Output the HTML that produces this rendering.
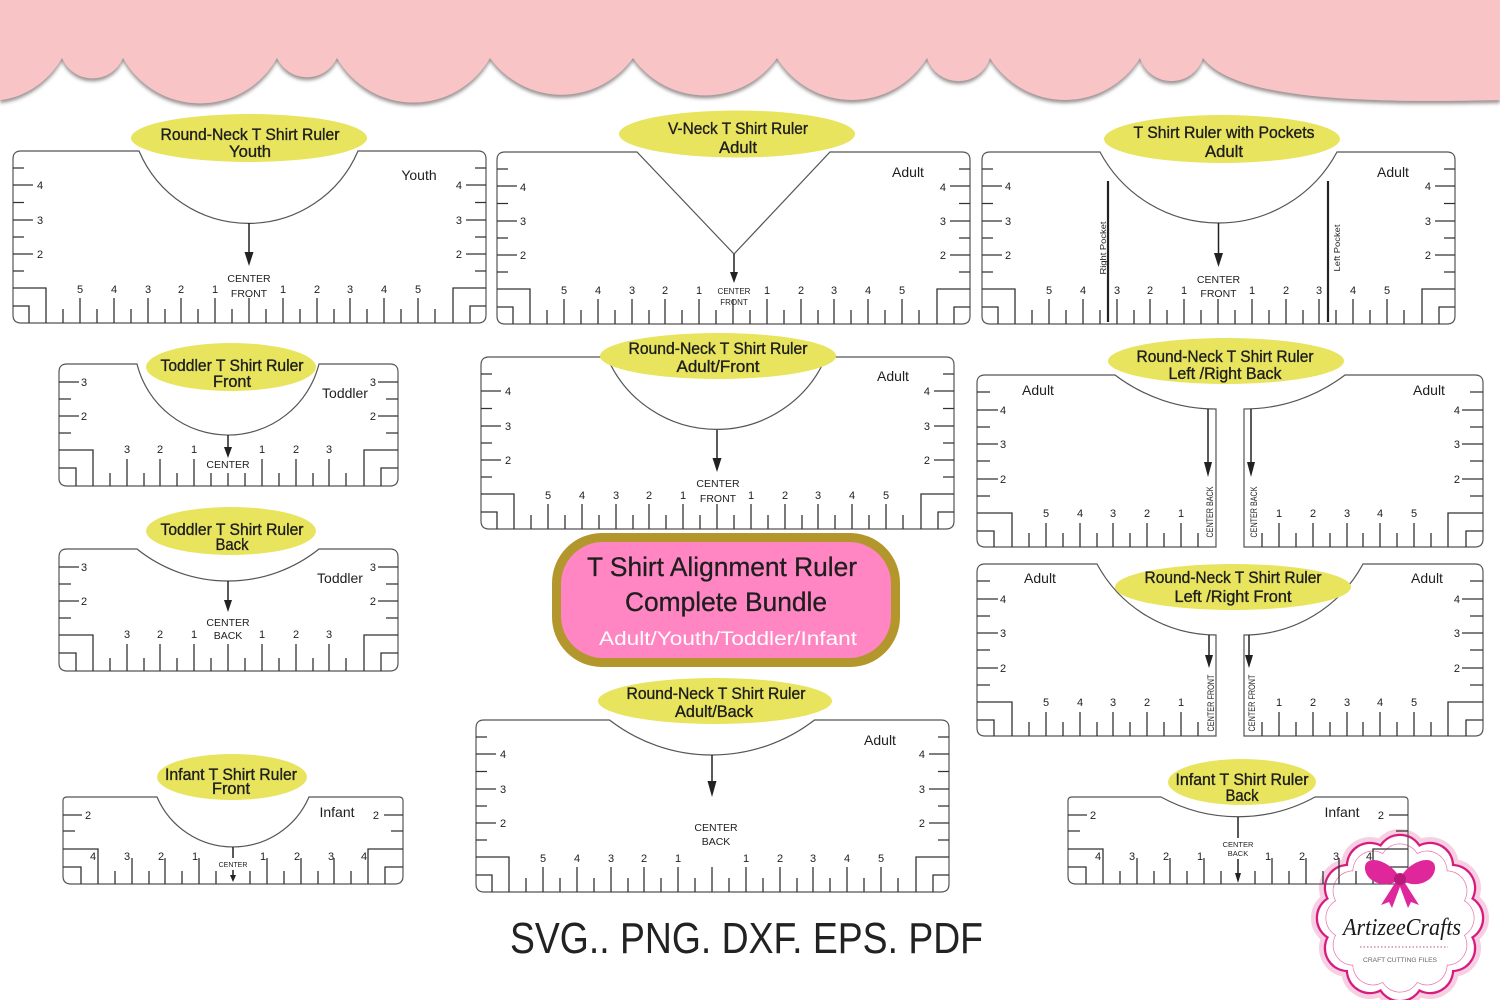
<!DOCTYPE html>
<html><head><meta charset="utf-8"><style>
html,body{margin:0;padding:0;background:#fff;}
svg{display:block;}
</style></head><body>
<svg width="1500" height="1000" viewBox="0 0 1500 1000" xmlns="http://www.w3.org/2000/svg">
<style>
text{font-family:"Liberation Sans",Arial,sans-serif;fill:#1e1e1e}
.o{fill:#fff;stroke:#555;stroke-width:1.2}
.n{font-size:11px;text-anchor:middle}
.ns{font-size:11px}
.ne{font-size:11px;text-anchor:end}
.lb{font-size:16.5px;text-anchor:middle;stroke:#1e1e1e;stroke-width:0.35}
.sz{font-size:14px;text-anchor:middle}
.el{fill:#e8e45e}
.ar{stroke:#222;stroke-width:1.5;fill:none}
.ah{fill:#222}
</style>
<defs>
<filter id="sh" x="-5%" y="-10%" width="110%" height="140%">
<feDropShadow dx="0" dy="3" stdDeviation="1.8" flood-color="#8a7f7f" flood-opacity="0.85"/>
</filter>
<path id="tA" fill="none" stroke="#333" stroke-width="1.3" d="M0,17h11M0,34h20M0,51.5h11M0,69h20M0,86h11M0,103h20M0,120h11M462,17h11M453,34h20M462,51.5h11M453,69h20M462,86h11M453,103h20M462,120h11M0,137H33V172M0,155H16V172M473,137H440V172M473,155H457V172M67,147V172M101,147V172M135,147V172M168,147V172M202,147V172M236,147V172M270,147V172M304,147V172M337,147V172M371,147V172M405,147V172M50,158V172M84,158V172M118,158V172M152,158V172M185,158V172M219,158V172M253,158V172M287,158V172M321,158V172M354,158V172M388,158V172M422,158V172"/>
<path id="tT" fill="none" stroke="#333" stroke-width="1.3" d="M0,18h20M0,35h12M0,52h20M0,69h12M319,18h20M327,35h12M319,52h20M327,69h12M0,86H34V122M0,104H17V122M339,86H305V122M339,104H322V122M68,95V122M101,95V122M135,95V122M203,95V122M237,95V122M270,95V122M51,109V122M85,109V122M118,109V122M152,109V122M186,109V122M220,109V122M254,109V122M287,109V122M169,109V122"/>
<path id="tI" fill="none" stroke="#333" stroke-width="1.3" d="M0,18h19M0,34h12M321,18h19M328,34h12M0,52H35V87M0,70H18V87M340,52H305V87M340,70H322V87M69,61V87M102,61V87M136,61V87M204,61V87M238,61V87M271,61V87M52,74V87M86,74V87M119,74V87M153,74V87M187,74V87M221,74V87M255,74V87M288,74V87"/>
<path id="tS" fill="none" stroke="#333" stroke-width="1.3" d="M0,17h13M0,35h21M0,52h13M0,69h21M0,86h13M0,104h21M0,121h13M0,138H35V172M0,156H17V172M69,148V172M103,148V172M136,148V172M170,148V172M204,148V172M52,158V172M86,158V172M120,158V172M153,158V172M187,158V172M221,158V172"/>
<g id="bumps">
<circle cx="1460" cy="918" r="22"/>
<circle cx="1460" cy="918" r="22" transform="rotate(30 1400 918)"/>
<circle cx="1460" cy="918" r="22" transform="rotate(60 1400 918)"/>
<circle cx="1460" cy="918" r="22" transform="rotate(90 1400 918)"/>
<circle cx="1460" cy="918" r="22" transform="rotate(120 1400 918)"/>
<circle cx="1460" cy="918" r="22" transform="rotate(150 1400 918)"/>
<circle cx="1460" cy="918" r="22" transform="rotate(180 1400 918)"/>
<circle cx="1460" cy="918" r="22" transform="rotate(210 1400 918)"/>
<circle cx="1460" cy="918" r="22" transform="rotate(240 1400 918)"/>
<circle cx="1460" cy="918" r="22" transform="rotate(270 1400 918)"/>
<circle cx="1460" cy="918" r="22" transform="rotate(300 1400 918)"/>
<circle cx="1460" cy="918" r="22" transform="rotate(330 1400 918)"/>
<circle cx="1400" cy="918" r="62"/>
</g>
</defs>

<rect width="1500" height="1000" fill="#fff"/>

<!-- Top scalloped banner -->
<path filter="url(#sh)" fill="#f8c4c5" d="M0,0H1500V100C1340,104 1232,96 1203,58A33,33 0 0 1 1140,58A88,88 0 0 1 990,58A33,33 0 0 1 927,58A88,88 0 0 1 777,58A88,88 0 0 1 633,58A88,88 0 0 1 490,58A88,88 0 0 1 337,58A33,33 0 0 1 277,58A88,88 0 0 1 123,58A33,33 0 0 1 62,58C50,80 25,98 0,100Z"/>

<!-- R1 Youth -->
<g transform="translate(13,151)">
<path class="o" d="M126,0H8Q0,0 0,8V164Q0,172 8,172H465Q473,172 473,164V8Q473,0 465,0H345A119,119 0 0 1 126,0Z"/>
<use href="#tA"/>
<text class="ns" x="24 24 24" y="38 73 107">432</text>
<text class="ne" x="449 449 449" y="38 73 107">432</text>
<text class="n" x="67 101 135 168 202 270 304 337 371 405" y="142">5432112345</text>
<text class="n" x="236" y="131" style="font-size:10.5px">CENTER</text>
<text class="n" x="236" y="146" style="font-size:10.5px">FRONT</text>
<text class="sz" x="406" y="29">Youth</text>
<path class="ar" d="M236,72V104"/><path class="ah" d="M231.5,101h9l-4.5,14z"/>
</g>
<ellipse class="el" cx="249" cy="138" rx="118" ry="24"/>
<text class="lb" x="250" y="140" textLength="179" lengthAdjust="spacingAndGlyphs">Round-Neck T Shirt Ruler</text>
<text class="lb" x="250" y="157" textLength="42" lengthAdjust="spacingAndGlyphs">Youth</text>

<!-- R2 V-Neck -->
<g transform="translate(497,152)">
<path class="o" d="M140,0H8Q0,0 0,8V164Q0,172 8,172H465Q473,172 473,164V8Q473,0 465,0H333L237,102Z"/>
<use href="#tA"/>
<text class="ns" x="23 23 23" y="39 73 107">432</text>
<text class="ne" x="449 449 449" y="39 73 107">432</text>
<text class="n" x="67 101 135 168 202 270 304 337 371 405" y="142">5432112345</text>
<text class="n" x="237" y="142" style="font-size:8px">CENTER</text>
<text class="n" x="237" y="153" style="font-size:8px">FRONT</text>
<text class="sz" x="411" y="25">Adult</text>
<path class="ar" d="M237,102V124"/><path class="ah" d="M233,120h8l-4,11z"/>
</g>
<ellipse class="el" cx="737" cy="134" rx="118" ry="23.5"/>
<text class="lb" x="738" y="134" textLength="140" lengthAdjust="spacingAndGlyphs">V-Neck T Shirt Ruler</text>
<text class="lb" x="738" y="153" textLength="38" lengthAdjust="spacingAndGlyphs">Adult</text>

<!-- R3 Pockets -->
<g transform="translate(982,152)">
<path class="o" d="M118,0H8Q0,0 0,8V164Q0,172 8,172H465Q473,172 473,164V8Q473,0 465,0H355A134.4,134.4 0 0 1 118,0Z"/>
<use href="#tA"/>
<path d="M126,29V170M346,29V170" stroke="#222" stroke-width="2.2"/>
<text class="ns" x="23 23 23" y="38 73 107">432</text>
<text class="ne" x="449 449 449" y="38 73 107">432</text>
<text class="n" x="67 101 135 168 202 270 304 337 371 405" y="142">5432112345</text>
<text class="n" x="236.5" y="131" style="font-size:10.5px">CENTER</text>
<text class="n" x="236.5" y="145" style="font-size:10.5px">FRONT</text>
<text transform="translate(124,96) rotate(-90)" text-anchor="middle" style="font-size:8.5px" textLength="53" lengthAdjust="spacingAndGlyphs">Right Pocket</text>
<text transform="translate(358,96) rotate(-90)" text-anchor="middle" style="font-size:8.5px" textLength="47" lengthAdjust="spacingAndGlyphs">Left Pocket</text>
<text class="sz" x="411" y="25">Adult</text>
<path class="ar" d="M236.5,71V105"/><path class="ah" d="M232,101h9l-4.5,14z"/>
</g>
<ellipse class="el" cx="1222" cy="139" rx="118" ry="24"/>
<text class="lb" x="1224" y="138" textLength="181" lengthAdjust="spacingAndGlyphs">T Shirt Ruler with Pockets</text>
<text class="lb" x="1224" y="157" textLength="38" lengthAdjust="spacingAndGlyphs">Adult</text>

<!-- R4 Toddler Front -->
<g transform="translate(59,364)">
<path class="o" d="M78,0H8Q0,0 0,8V114Q0,122 8,122H331Q339,122 339,114V8Q339,0 331,0H260A93.8,93.8 0 0 1 78,0Z"/>
<use href="#tT"/>
<text class="ns" x="22 22" y="22 56">32</text>
<text class="ne" x="317 317" y="22 56">32</text>
<text class="n" x="68 101 135 203 237 270" y="89">321123</text>
<text class="n" x="169" y="104" style="font-size:10.5px">CENTER</text>
<text class="sz" x="286" y="34">Toddler</text>
<path class="ar" d="M169,71V86"/><path class="ah" d="M165,83h8l-4,11z"/>
</g>
<ellipse class="el" cx="231" cy="367" rx="85" ry="24"/>
<text class="lb" x="232" y="371" textLength="143" lengthAdjust="spacingAndGlyphs">Toddler T Shirt Ruler</text>
<text class="lb" x="232" y="387" textLength="38" lengthAdjust="spacingAndGlyphs">Front</text>

<!-- R5 Toddler Back -->
<g transform="translate(59,549)">
<path class="o" d="M78,0H8Q0,0 0,8V114Q0,122 8,122H331Q339,122 339,114V8Q339,0 331,0H260A145.4,145.4 0 0 1 78,0Z"/>
<use href="#tT"/>
<path d="M169,95V109" stroke="#333" stroke-width="1.3"/>
<text class="ns" x="22 22" y="22 56">32</text>
<text class="ne" x="317 317" y="22 56">32</text>
<text class="n" x="68 101 135 203 237 270" y="89">321123</text>
<text class="n" x="169" y="77" style="font-size:10.5px">CENTER</text>
<text class="n" x="169" y="90" style="font-size:10.5px">BACK</text>
<text class="sz" x="281" y="34">Toddler</text>
<path class="ar" d="M169,32V54"/><path class="ah" d="M165,51h8l-4,12z"/>
</g>
<ellipse class="el" cx="231" cy="531" rx="85" ry="24"/>
<text class="lb" x="232" y="535" textLength="143" lengthAdjust="spacingAndGlyphs">Toddler T Shirt Ruler</text>
<text class="lb" x="232" y="550" textLength="33" lengthAdjust="spacingAndGlyphs">Back</text>

<!-- R6 Adult/Front -->
<g transform="translate(481,357)">
<path class="o" d="M126,0H8Q0,0 0,8V164Q0,172 8,172H465Q473,172 473,164V8Q473,0 465,0H345A119,119 0 0 1 126,0Z"/>
<use href="#tA"/>
<text class="ns" x="24 24 24" y="38 73 107">432</text>
<text class="ne" x="449 449 449" y="38 73 107">432</text>
<text class="n" x="67 101 135 168 202 270 304 337 371 405" y="142">5432112345</text>
<text class="n" x="237" y="130" style="font-size:10.5px">CENTER</text>
<text class="n" x="237" y="145" style="font-size:10.5px">FRONT</text>
<text class="sz" x="412" y="24">Adult</text>
<path class="ar" d="M236,73V104"/><path class="ah" d="M231.5,101h9l-4.5,14z"/>
</g>
<ellipse class="el" cx="718" cy="356" rx="118" ry="23"/>
<text class="lb" x="718" y="354" textLength="179" lengthAdjust="spacingAndGlyphs">Round-Neck T Shirt Ruler</text>
<text class="lb" x="718" y="372" textLength="83" lengthAdjust="spacingAndGlyphs">Adult/Front</text>

<!-- R7 Adult/Back -->
<g transform="translate(476,720)">
<path class="o" d="M133.5,0H8Q0,0 0,8V164Q0,172 8,172H465Q473,172 473,164V8Q473,0 465,0H338.5A167.6,167.6 0 0 1 133.5,0Z"/>
<use href="#tA"/>
<text class="ns" x="24 24 24" y="38 73 107">432</text>
<text class="ne" x="449 449 449" y="38 73 107">432</text>
<text class="n" x="67 101 135 168 202 270 304 337 371 405" y="142">5432112345</text>
<text class="n" x="240" y="111" style="font-size:10.5px">CENTER</text>
<text class="n" x="240" y="125" style="font-size:10.5px">BACK</text>
<text class="sz" x="404" y="25">Adult</text>
<path class="ar" d="M236,35V64"/><path class="ah" d="M231.5,61h9l-4.5,16z"/>
</g>
<ellipse class="el" cx="715" cy="701" rx="117" ry="23"/>
<text class="lb" x="716" y="699" textLength="179" lengthAdjust="spacingAndGlyphs">Round-Neck T Shirt Ruler</text>
<text class="lb" x="714" y="717" textLength="78" lengthAdjust="spacingAndGlyphs">Adult/Back</text>

<!-- R8 Infant Front -->
<g transform="translate(63,797)">
<path class="o" d="M94,0H4Q0,0 0,4V79Q0,87 8,87H332Q340,87 340,79V4Q340,0 336,0H246A82.8,82.8 0 0 1 94,0Z"/>
<use href="#tI"/>
<text class="ns" x="22" y="22">2</text>
<text class="ne" x="316" y="22">2</text>
<text class="n" x="30 64 98 132 200 234 268 301" y="63">43211234</text>
<text class="n" x="170" y="70" style="font-size:7px">CENTER</text>
<path class="ar" d="M170,50V61M170,73V80" stroke-width="1.2"/><path class="ah" d="M167,78h6l-3,7z"/>
<text class="sz" x="274" y="20">Infant</text>
</g>
<ellipse class="el" cx="232" cy="777" rx="75" ry="23"/>
<text class="lb" x="231" y="780" textLength="132" lengthAdjust="spacingAndGlyphs">Infant T Shirt Ruler</text>
<text class="lb" x="231" y="794" textLength="38" lengthAdjust="spacingAndGlyphs">Front</text>

<!-- R10 Left/Right Back -->
<g transform="translate(977,375)">
<path class="o" d="M138,0H8Q0,0 0,8V164Q0,172 8,172H239V34A167,167 0 0 1 138,0Z"/>
<use href="#tS"/>
<path class="ar" d="M231,34V90"/><path class="ah" d="M227,87h8l-4,15z"/>
</g>
<g transform="translate(1483,375) scale(-1,1)">
<path class="o" d="M138,0H8Q0,0 0,8V164Q0,172 8,172H239V34A167,167 0 0 1 138,0Z"/>
<use href="#tS"/>
<path class="ar" d="M232,34V90"/><path class="ah" d="M228,87h8l-4,15z"/>
</g>
<text class="ns" x="1000 1000 1000" y="414 448 483">432</text>
<text class="n" x="1046 1080 1113 1147 1181" y="517">54321</text>
<text class="sz" x="1038" y="395">Adult</text>
<text transform="translate(1213,512) rotate(-90)" text-anchor="middle" style="font-size:9px" textLength="51" lengthAdjust="spacingAndGlyphs">CENTER BACK</text>
<text class="ne" x="1460 1460 1460" y="414 448 483">432</text>
<text class="n" x="1279 1313 1347 1380 1414" y="517">12345</text>
<text class="sz" x="1429" y="395">Adult</text>
<text transform="translate(1257,512) rotate(-90)" text-anchor="middle" style="font-size:9px" textLength="51" lengthAdjust="spacingAndGlyphs">CENTER BACK</text>
<ellipse class="el" cx="1226" cy="361" rx="118" ry="23"/>
<text class="lb" x="1225" y="362" textLength="177" lengthAdjust="spacingAndGlyphs">Round-Neck T Shirt Ruler</text>
<text class="lb" x="1225" y="379" textLength="113" lengthAdjust="spacingAndGlyphs">Left /Right Back</text>

<!-- R11 Left/Right Front -->
<g transform="translate(977,564)">
<path class="o" d="M120,0H8Q0,0 0,8V164Q0,172 8,172H239V71A135.2,135.2 0 0 1 120,0Z"/>
<use href="#tS"/>
<path class="ar" d="M232,71V95"/><path class="ah" d="M228,91h8l-4,13z"/>
</g>
<g transform="translate(1483,564) scale(-1,1)">
<path class="o" d="M120,0H8Q0,0 0,8V164Q0,172 8,172H239V71A135.2,135.2 0 0 1 120,0Z"/>
<use href="#tS"/>
<path class="ar" d="M234,71V95"/><path class="ah" d="M230,91h8l-4,13z"/>
</g>
<text class="ns" x="1000 1000 1000" y="603 637 672">432</text>
<text class="n" x="1046 1080 1113 1147 1181" y="706">54321</text>
<text class="sz" x="1040" y="583">Adult</text>
<text transform="translate(1214,703) rotate(-90)" text-anchor="middle" style="font-size:9px" textLength="57" lengthAdjust="spacingAndGlyphs">CENTER FRONT</text>
<text class="ne" x="1460 1460 1460" y="603 637 672">432</text>
<text class="n" x="1279 1313 1347 1380 1414" y="706">12345</text>
<text class="sz" x="1427" y="583">Adult</text>
<text transform="translate(1255,703) rotate(-90)" text-anchor="middle" style="font-size:9px" textLength="57" lengthAdjust="spacingAndGlyphs">CENTER FRONT</text>
<ellipse class="el" cx="1233" cy="587" rx="118" ry="23"/>
<text class="lb" x="1233" y="583" textLength="177" lengthAdjust="spacingAndGlyphs">Round-Neck T Shirt Ruler</text>
<text class="lb" x="1233" y="602" textLength="117" lengthAdjust="spacingAndGlyphs">Left /Right Front</text>

<!-- Center title box -->
<rect x="552" y="533" width="348" height="134" rx="50" fill="#b3972c"/>
<rect x="561" y="542" width="330" height="116" rx="42" fill="#ff86c3"/>
<text x="722" y="576" text-anchor="middle" style="font-size:27px;stroke:#1e1e1e;stroke-width:0.3" textLength="270" lengthAdjust="spacingAndGlyphs">T Shirt Alignment Ruler</text>
<text x="726" y="611" text-anchor="middle" style="font-size:27px;stroke:#1e1e1e;stroke-width:0.3" textLength="202" lengthAdjust="spacingAndGlyphs">Complete Bundle</text>
<text x="728" y="645" text-anchor="middle" style="font-size:19px;fill:#fff" textLength="258" lengthAdjust="spacingAndGlyphs">Adult/Youth/Toddler/Infant</text>

<!-- Bottom formats -->
<text x="510" y="953" style="font-size:44px;fill:#222" textLength="473" lengthAdjust="spacingAndGlyphs">SVG.. PNG. DXF. EPS. PDF</text>

<!-- Logo base -->
<use href="#bumps" fill="none" stroke="#f7cfe2" stroke-width="14"/>
<use href="#bumps" fill="none" stroke="#d81b7f" stroke-width="4.5"/>
<use href="#bumps" fill="#fff"/>
<use href="#bumps" fill="none" stroke="#e879b0" stroke-width="1.6" transform="translate(1400,918) scale(0.9) translate(-1400,-918)"/>
<use href="#bumps" fill="#fff" transform="translate(1400,918) scale(0.9) translate(-1400,-918)"/>

<!-- R9 Infant Back -->
<g transform="translate(1068,797)">
<path class="o" d="M93,0H4Q0,0 0,4V79Q0,87 8,87H332Q340,87 340,79V4Q340,0 336,0H247A160,160 0 0 1 93,0Z" fill-opacity="0"/>
<use href="#tI"/>
<text class="ns" x="22" y="22">2</text>
<text class="ne" x="316" y="22">2</text>
<text class="n" x="30 64 98 132 200 234 268 301" y="63">43211234</text>
<text class="n" x="170" y="50" style="font-size:7.5px">CENTER</text>
<text class="n" x="170" y="59" style="font-size:7.5px">BACK</text>
<path class="ar" d="M170,20V41M170,62V78" stroke-width="1.2"/><path class="ah" d="M167,76h6l-3,10z"/>
<text class="sz" x="274" y="20">Infant</text>
</g>
<ellipse class="el" cx="1242" cy="782" rx="74" ry="23"/>
<text class="lb" x="1242" y="785" textLength="133" lengthAdjust="spacingAndGlyphs">Infant T Shirt Ruler</text>
<text class="lb" x="1242" y="801" textLength="33" lengthAdjust="spacingAndGlyphs">Back</text>

<!-- Logo top: bow and text -->
<path fill="#e0269b" d="M1400,878C1390,860 1366,854 1365,867C1364,882 1388,891 1400,878Z"/>
<path fill="#e0269b" d="M1400,878C1410,860 1434,854 1435,867C1436,882 1412,891 1400,878Z"/>
<path fill="#e0269b" d="M1397,880L1381,905L1389,902L1392,908L1401,884Z"/>
<path fill="#e0269b" d="M1403,880L1419,905L1411,902L1408,908L1399,884Z"/>
<circle cx="1400" cy="879" r="6" fill="#b81a7a"/>
<text x="1343" y="935" style="font-family:'Liberation Serif',serif;font-style:italic;font-size:24px;fill:#1a1a1a" textLength="118" lengthAdjust="spacingAndGlyphs">ArtizeeCrafts</text>
<path d="M1360,947H1448" stroke="#d070a0" stroke-width="1.2" stroke-dasharray="1.5 2"/>
<text x="1400" y="962" text-anchor="middle" style="font-size:6.5px;fill:#666" textLength="74" lengthAdjust="spacingAndGlyphs">CRAFT CUTTING FILES</text>
</svg>
</body></html>
